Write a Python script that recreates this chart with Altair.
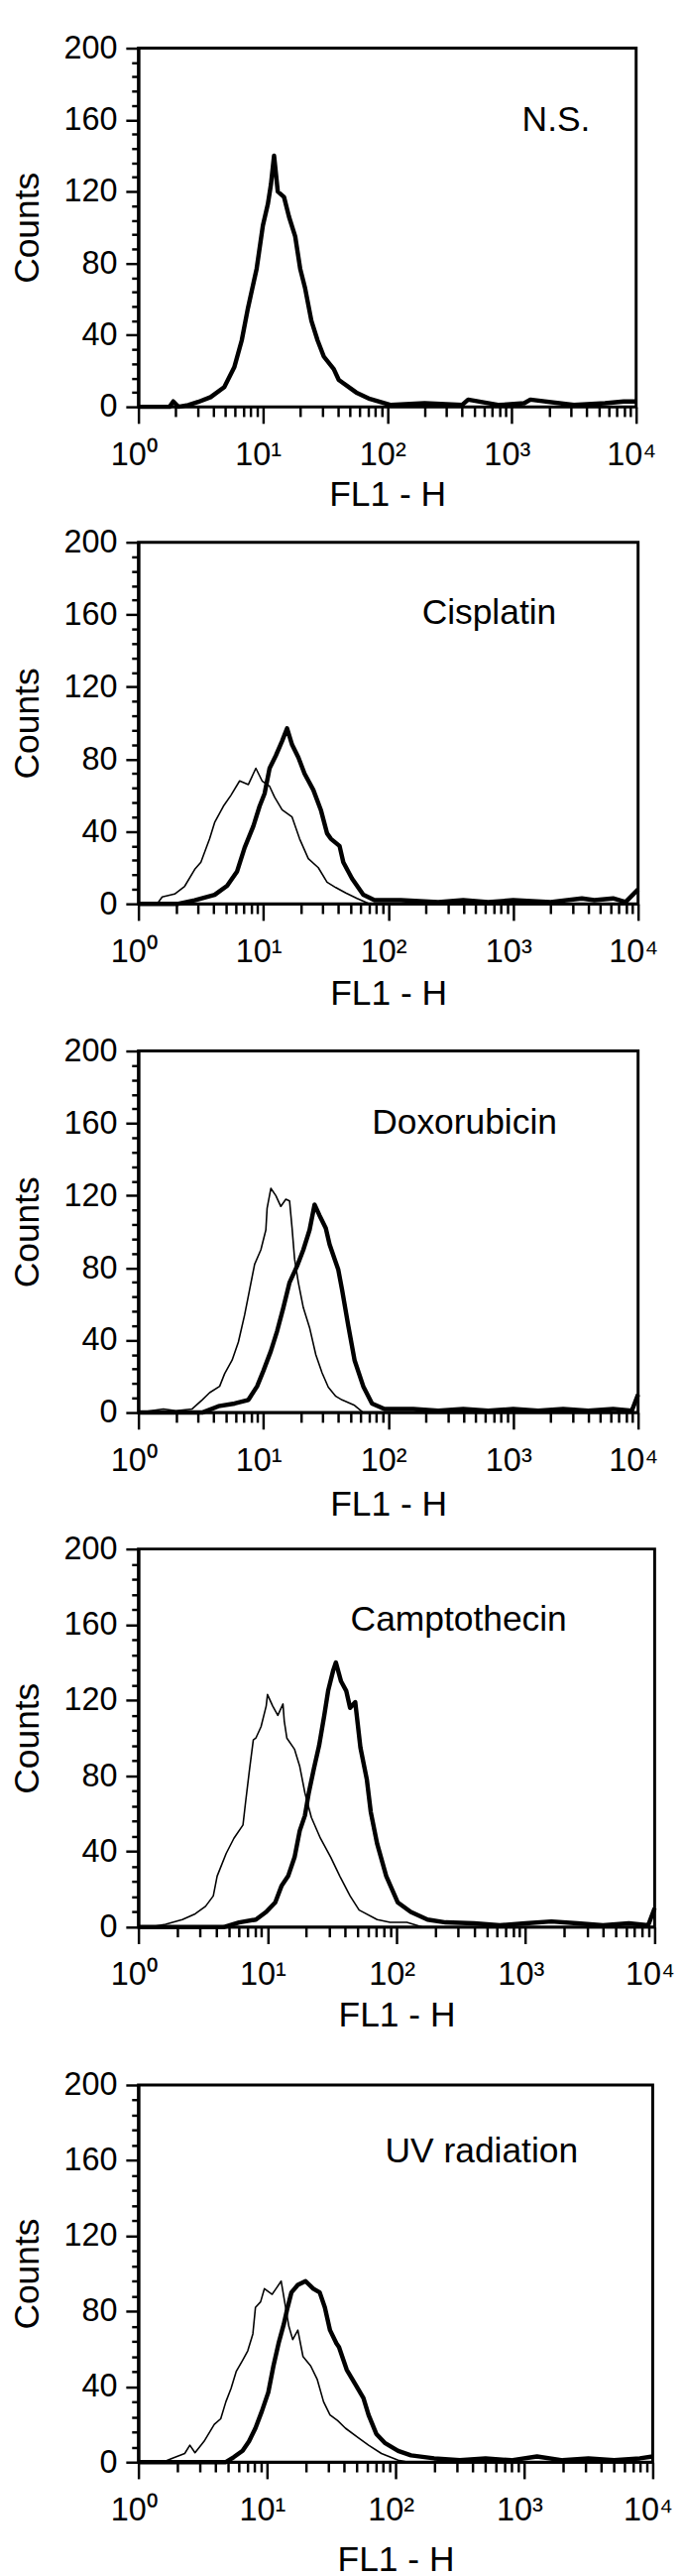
import altair as alt
import pandas as pd

FONT = "Liberation Sans"

panel_names = ["N.S.", "Cisplatin", "Doxorubicin", "Camptothecin", "UV radiation"]

# annotation positions (FL1 value, counts)
label_fl1 = [1210, 186, 74, 44, 83]
label_cnt = [154, 155, 154, 157, 159]

# panel sizes (px)
panel_w = [511, 513, 513, 530, 528]
panel_h = [368, 371, 371, 388, 387]
# distance of x title below the tick labels, and gaps between panels
title_pad = [7, 9, 11, 7, 17]
gaps = [11, 21, 8, 34]

# x positions are read in decades (log10 of FL1-H), counts on the y axis
ns_t_dec = [0, 0.25, 0.28, 0.32, 0.40, 0.48, 0.58, 0.69, 0.77, 0.83, 0.88, 0.95, 1.0, 1.04, 1.065,
            1.09, 1.12, 1.17, 1.21, 1.26, 1.30, 1.34, 1.39, 1.44, 1.49, 1.57, 1.61, 1.75, 1.86, 2.03,
            2.3, 2.6, 2.65, 2.9, 3.1, 3.15, 3.5, 3.75, 3.9, 4.0]
ns_t_cnt = [0, 0, 3, 0, 1, 2.7, 5.4, 11, 22, 37, 55, 77, 101, 113, 124,
            140, 120, 117, 106, 95, 77, 66, 48, 37, 28, 21, 15, 8, 4.4, 1,
            2, 1, 4, 1, 2, 4, 1, 2, 3, 3]

cis_c_dec = [0, 0.15, 0.19, 0.29, 0.37, 0.45, 0.50, 0.57, 0.61, 0.68, 0.74, 0.81, 0.88, 0.94, 0.99,
             1.05, 1.09, 1.15, 1.23, 1.29, 1.36, 1.44, 1.51, 1.58, 1.66, 1.75, 1.85, 4.0]
cis_c_cnt = [0, 0, 3.8, 5.4, 9.7, 19, 23, 36, 45, 54, 60, 68, 66, 75, 68,
             65, 59, 52, 48, 36, 25, 20, 12, 9, 6, 3, 0, 0]
cis_t_dec = [0, 0.32, 0.45, 0.61, 0.71, 0.79, 0.85, 0.92, 0.97, 1.01, 1.05, 1.10, 1.15, 1.19, 1.23,
             1.28, 1.33, 1.40, 1.46, 1.51, 1.54, 1.61, 1.64, 1.71, 1.80, 1.89, 2.1, 2.4, 2.6, 2.8,
             3.0, 3.3, 3.55, 3.65, 3.8, 3.9, 4.0]
cis_t_cnt = [0, 0, 2, 5, 10, 18, 31, 43, 54, 61, 75, 82, 90, 97, 88,
             81, 72, 63, 52, 39, 36, 32, 23, 14, 5, 2, 2, 1, 2, 1,
             2, 1, 3, 2, 3, 1, 8]

dox_c_dec = [0, 0.2, 0.3, 0.43, 0.51, 0.57, 0.65, 0.69, 0.75, 0.80, 0.85, 0.89, 0.93, 0.98, 1.02,
             1.03, 1.06, 1.10, 1.14, 1.18, 1.21, 1.23, 1.25, 1.28, 1.32, 1.37, 1.42, 1.47, 1.52, 1.58,
             1.63, 1.73, 1.80, 4.0]
dox_c_cnt = [0, 2, 1, 2, 7, 11, 14.5, 21.5, 29, 39, 54, 68, 82, 90, 101,
             113, 124, 120, 114, 118, 117, 102, 85, 72, 58, 47, 32, 22, 14, 9,
             7, 4, 0, 0]
dox_t_dec = [0, 0.51, 0.64, 0.77, 0.88, 0.95, 1.0, 1.06, 1.11, 1.16, 1.21, 1.27, 1.32, 1.37, 1.41,
             1.45, 1.50, 1.53, 1.60, 1.63, 1.68, 1.73, 1.80, 1.87, 1.97, 2.2, 2.4, 2.6, 2.8, 3.0,
             3.2, 3.4, 3.6, 3.8, 3.95, 4.0]
dox_t_cnt = [0, 0, 3.5, 5, 7, 14.5, 23, 34, 45, 58, 72, 81, 90, 101, 115,
             109, 102, 93, 79, 68, 48, 29, 14.5, 5, 2, 2, 1, 2, 1, 2,
             1, 2, 1, 2, 1, 10]

cpt_c_dec = [0, 0.09, 0.21, 0.34, 0.44, 0.52, 0.58, 0.61, 0.68, 0.74, 0.81, 0.83, 0.86, 0.89, 0.91,
             0.95, 0.99, 1.0, 1.04, 1.08, 1.12, 1.13, 1.15, 1.21, 1.25, 1.29, 1.34, 1.41, 1.49, 1.56,
             1.64, 1.71, 1.85, 1.95, 2.08, 2.2, 4.0]
cpt_c_cnt = [0, 0, 1.5, 4, 7, 11, 16.5, 27, 39, 47, 54, 66, 83, 99, 100,
             106, 117, 123, 117, 112, 118, 109, 100, 94, 85, 71, 58, 47, 37, 27,
             16.5, 9, 4, 2.5, 2.5, 0, 0]
cpt_t_dec = [0, 0.66, 0.78, 0.91, 0.99, 1.06, 1.11, 1.16, 1.21, 1.25, 1.29, 1.32, 1.36, 1.40, 1.44,
             1.47, 1.51, 1.53, 1.57, 1.61, 1.64, 1.68, 1.72, 1.77, 1.80, 1.85, 1.92, 2.01, 2.11, 2.24,
             2.38, 2.6, 2.8, 3.0, 3.2, 3.4, 3.6, 3.8, 3.95, 4.0]
cpt_t_cnt = [0, 0, 2.5, 4, 8, 13, 22, 27, 37, 51, 59, 71, 84, 96, 112,
             125, 136, 140, 130, 125, 116, 119, 95, 78, 61, 44, 27, 13, 8, 4,
             2.5, 2, 1, 2, 3, 2, 1, 2, 1, 10]

uv_c_dec = [0, 0.19, 0.26, 0.36, 0.40, 0.44, 0.51, 0.59, 0.64, 0.68, 0.72, 0.76, 0.81, 0.85, 0.89,
            0.91, 0.95, 0.98, 1.04, 1.07, 1.11, 1.14, 1.17, 1.20, 1.24, 1.28, 1.34, 1.39, 1.44, 1.49,
            1.55, 1.61, 1.71, 1.79, 1.89, 2.02, 2.1, 4.0]
uv_c_cnt = [0, 0, 2, 4.6, 9, 5, 11, 20, 23, 32, 39, 48, 54, 59, 68,
            82, 85, 92, 89, 92, 96, 84, 72, 65, 70, 56, 51, 44, 32, 25,
            22, 18, 13, 9, 4.6, 1, 0, 0]
uv_t_dec = [0, 0.68, 0.74, 0.81, 0.86, 0.91, 0.96, 1.01, 1.05, 1.09, 1.13, 1.16, 1.19, 1.24, 1.30,
            1.36, 1.41, 1.45, 1.49, 1.54, 1.56, 1.62, 1.69, 1.75, 1.79, 1.85, 1.92, 2.02, 2.12, 2.3,
            2.5, 2.7, 2.9, 3.1, 3.3, 3.5, 3.7, 3.9, 4.0]
uv_t_cnt = [0, 0, 2.6, 6, 11, 18, 27, 37, 51, 63, 73, 82, 90, 94, 96,
            92, 90, 82, 70, 63, 61, 49, 41, 34, 25, 15, 10, 6, 3.6, 2,
            1, 2, 1, 3, 1, 2, 1, 2, 3]

control = [None, (cis_c_dec, cis_c_cnt), (dox_c_dec, dox_c_cnt), (cpt_c_dec, cpt_c_cnt), (uv_c_dec, uv_c_cnt)]
treated = [(ns_t_dec, ns_t_cnt), (cis_t_dec, cis_t_cnt), (dox_t_dec, dox_t_cnt), (cpt_t_dec, cpt_t_cnt), (uv_t_dec, uv_t_cnt)]

# axis ticks
xtick_major = [1, 10, 100, 1000, 10000]
xtick_labels = ["10⁰", "10¹", "10²", "10³", "10⁴"]
xtick_all = sorted(set(xtick_major + [k * m for m in [1, 10, 100, 1000] for k in range(2, 10)]))
ytick_major = [0, 40, 80, 120, 160, 200]
ytick_all = list(range(0, 201, 8))

x_label_expr = " : ".join(f"datum.value === {v} ? '{l}'" for v, l in zip(xtick_major, xtick_labels)) + " : ''"
x_major_test = "indexof([" + ",".join(str(v) for v in xtick_major) + "], datum.value) >= 0"
y_major_test = "indexof([" + ",".join(str(v) for v in ytick_major) + "], datum.value) >= 0"

y_axis = alt.Axis(
    values=ytick_all, labelExpr="datum.value % 40 === 0 ? datum.label : ''", labelOverlap=False,
    labelFlush=False,
    tickSize={"condition": {"test": y_major_test, "value": 13}, "value": 7},
    tickWidth=2.5, domainWidth=3, labelPadding=9, titlePadding=18, title="Counts",
)
x_scale = alt.Scale(type="log", domain=[1, 10000], nice=False)
y_scale = alt.Scale(domain=[0, 200], nice=False)


def make_panel(i):
    x_axis = alt.Axis(
        values=xtick_all, labelExpr=x_label_expr, labelOverlap=False, labelFlush=False,
        tickSize={"condition": {"test": x_major_test, "value": 17}, "value": 10},
        tickWidth=2.5, domainWidth=2, labelPadding=16, labelOffset=-5,
        titlePadding=title_pad[i], title="FL1 - H",
    )
    rows = []
    if control[i] is not None:
        for d, c in zip(*control[i]):
            rows.append({"fl1": 10 ** d, "count": c, "series": "control"})
    for d, c in zip(*treated[i]):
        rows.append({"fl1": 10 ** d, "count": c, "series": "treated"})
    df = pd.DataFrame(rows)
    lines = alt.Chart(df).mark_line(color="black", strokeJoin="round").encode(
        x=alt.X("fl1:Q", scale=x_scale, axis=x_axis),
        y=alt.Y("count:Q", scale=y_scale, axis=y_axis),
        detail="series:N",
        strokeWidth=alt.StrokeWidth("series:N", scale=alt.Scale(domain=["control", "treated"], range=[1.6, 4.5]), legend=None),
        order=alt.Order("fl1:Q"),
    )
    lab = pd.DataFrame({"fl1": [label_fl1[i]], "count": [label_cnt[i]], "label": [panel_names[i]]})
    text = alt.Chart(lab).mark_text(align="left", baseline="alphabetic", font=FONT, fontSize=36, color="black").encode(
        x=alt.X("fl1:Q", scale=x_scale, axis=x_axis),
        y=alt.Y("count:Q", scale=y_scale, axis=y_axis),
        text="label:N",
    )
    return alt.layer(lines, text).properties(width=panel_w[i], height=panel_h[i])


stack = make_panel(0)
for i in range(1, 5):
    stack = alt.vconcat(stack, make_panel(i), spacing=gaps[i - 1])

chart = stack.properties(
    padding={"left": 0, "top": 0, "right": 0, "bottom": 0}
).configure_view(stroke="black", strokeWidth=3).configure_axis(
    labelFont=FONT, labelFontSize=33, labelColor="black",
    titleFont=FONT, titleFontSize=36, titleFontWeight="normal", titleColor="black",
    domainColor="black", tickColor="black", grid=False,
)

chart.save("out.html", embed_options={"renderer": "svg", "actions": False})
